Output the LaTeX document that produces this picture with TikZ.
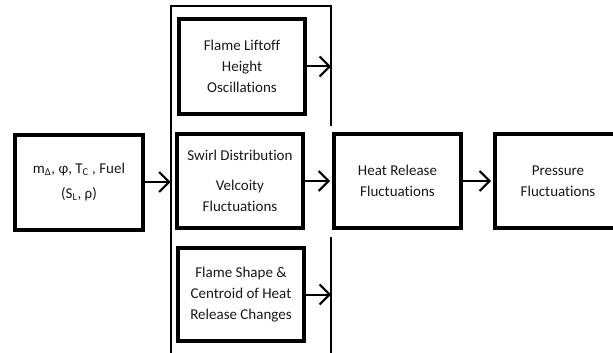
\documentclass[tikz,border=0pt]{standalone}
\usepackage{fontspec}
\setmainfont[Ligatures=NoCommon]{Carlito}
\usetikzlibrary{arrows.meta}
\begin{document}
\begin{tikzpicture}[x=1pt,y=-1pt,
  box/.style={draw, line width=4pt, align=center, inner sep=0pt,
    minimum width=126pt, minimum height=94pt,
    font=\fontsize{15}{21}\selectfont, text=black!90},
  frameline/.style={line width=2pt},
  conn/.style={line width=2pt, -{Straight Barb[length=10pt,width=20pt,line width=2pt]}}]
\clip (0,0) rectangle (613,353);
\fill[white] (0,0) rectangle (613,353);
% nodes
\node[box, minimum width=128pt, minimum height=95pt,
      font=\fontsize{15}{25}\selectfont] (input) at (79,182)
  {m\textsubscript{Δ}, φ, T\textsubscript{C} , Fuel\\(S\textsubscript{L}, ρ)};
\node[box, minimum height=95pt] (liftoff) at (242,66.5) {Flame Liftoff\\Height\\Oscillations};
\node[box] (swirl) at (240,181) {Swirl Distribution\\[9pt]Velcoity\\Fluctuations};
\node[box, minimum height=93pt] (shape) at (241,294.5) {Flame Shape \&\\Centroid of Heat\\Release Changes};
\node[box, minimum width=127pt] (heat) at (397.5,181) {Heat Release\\Fluctuations};
\node[box] (press) at (558,181) {Pressure\\Fluctuations};
% frame
\coordinate (flb) at (170.5,353);
\coordinate (ftl) at (170.5,6.5);
\coordinate (ftr) at (331,6.5);
\coordinate (frb1) at (331,126);
\coordinate (frt2) at (331,237);
\coordinate (frb2) at (331,353);
\draw[frameline] (flb) -- (ftl) -- (ftr) -- (frb1);
\draw[frameline] (frt2) -- (frb2);
% connectors
\draw[conn] (input.east) -- (input.east -| ftl);
\draw[conn] (liftoff.east) -- (liftoff.east -| ftr);
\draw[conn, shorten >=2pt] (swirl.east) -- (heat.west);
\draw[conn] (shape.east) -- (shape.east -| ftr);
\draw[conn, shorten >=2pt] (heat.east) -- (press.west);
\end{tikzpicture}
\end{document}
